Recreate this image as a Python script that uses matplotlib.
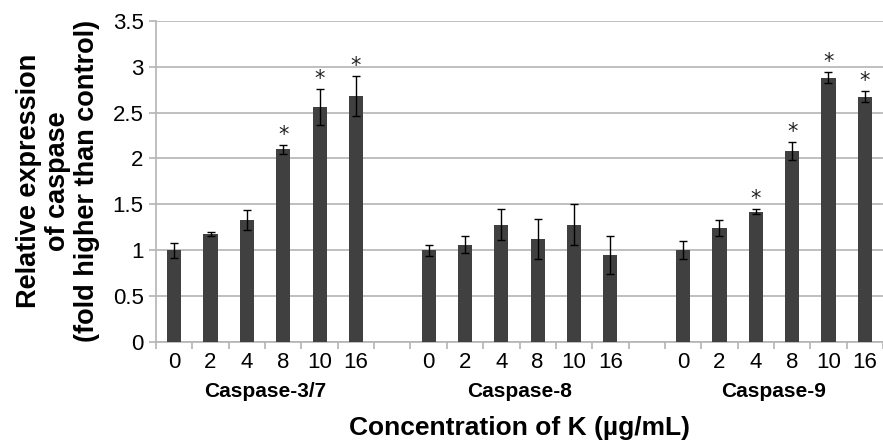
import matplotlib.pyplot as plt
import numpy as np

plt.rcParams['font.family'] = ['Liberation Sans', 'DejaVu Sans']

doses = ['0', '2', '4', '8', '10', '16']
groups = ['Caspase-3/7', 'Caspase-8', 'Caspase-9']

casp37 = [1.00, 1.18, 1.33, 2.10, 2.56, 2.68]
casp37_err = [0.08, 0.02, 0.11, 0.05, 0.20, 0.22]
casp37_sig = [False, False, False, True, True, True]

casp8 = [1.00, 1.06, 1.28, 1.12, 1.28, 0.95]
casp8_err = [0.06, 0.09, 0.17, 0.22, 0.22, 0.21]
casp8_sig = [False, False, False, False, False, False]

casp9 = [1.00, 1.24, 1.42, 2.08, 2.88, 2.67]
casp9_err = [0.10, 0.09, 0.03, 0.10, 0.06, 0.06]
casp9_sig = [False, False, True, True, True, True]

series = [(casp37, casp37_err, casp37_sig),
          (casp8, casp8_err, casp8_sig),
          (casp9, casp9_err, casp9_sig)]

fig = plt.figure(figsize=(8.83, 4.43), dpi=100)
ax = fig.add_axes([0.1767, 0.228, 0.8233, 0.725])

grid_c = '#b4b4b4'
bar_c = '#404040'
n = len(doses)
label_pos = []
label_txt = []
group_centers = []
for g, (vals, errs, sig) in enumerate(series):
    x = np.arange(n) + g * (n + 1)
    ax.bar(x, vals, width=0.39, color=bar_c, edgecolor='none', zorder=3)
    ax.errorbar(x, vals, yerr=errs, fmt='none', ecolor='black',
                elinewidth=1, capsize=3, capthick=1, zorder=4)
    for xi, v, e, s in zip(x, vals, errs, sig):
        if s:
            ax.annotate('*', (xi, v + e), xytext=(0, 0), textcoords='offset points',
                        ha='center', va='bottom', fontsize=15,
                        family='DejaVu Sans', color='#222222')
    label_pos.extend(x)
    label_txt.extend(doses)
    group_centers.append(x.mean())

ax.set_xlim(-0.5, 3 * n + 2 - 0.5)
ax.set_ylim(0, 3.5)
ax.set_yticks(np.arange(0, 3.51, 0.5))
ax.set_yticklabels(['0', '0.5', '1', '1.5', '2', '2.5', '3', '3.5'], fontsize=16)
ax.yaxis.grid(True, color=grid_c, linewidth=1.2, zorder=0)
ax.set_axisbelow(True)

ax.set_xticks(label_pos)
ax.set_xticklabels(label_txt, fontsize=16)
ax.set_xticks(np.arange(-0.5, 3 * n + 2, 1.0), minor=True)
ax.tick_params(axis='x', which='major', length=0, pad=7)
ax.tick_params(axis='x', which='minor', length=5, color=grid_c, width=1.2)
ax.tick_params(axis='y', length=5, color=grid_c, width=1.2, pad=4)

for side in ['top', 'right']:
    ax.spines[side].set_visible(False)
for side in ['left', 'bottom']:
    ax.spines[side].set_color(grid_c)
    ax.spines[side].set_linewidth(1.2)

for c, name in zip(group_centers, groups):
    ax.text(c, -0.155, name, transform=ax.get_xaxis_transform(),
            ha='center', va='center', fontsize=15, fontweight='bold')

fig.text(0.5 * (0.1767 + 1.0), 1 - 428 / 443, 'Concentration of K (µg/mL)',
         ha='center', va='center', fontsize=19, fontweight='bold')
fig.text(58 / 883, 1 - 181 / 443,
         'Relative expression\nof caspase\n(fold higher than control)',
         ha='center', va='center', rotation=90, fontsize=19.5,
         fontweight='bold', linespacing=1.15)

fig.savefig('out.png', dpi=100)
